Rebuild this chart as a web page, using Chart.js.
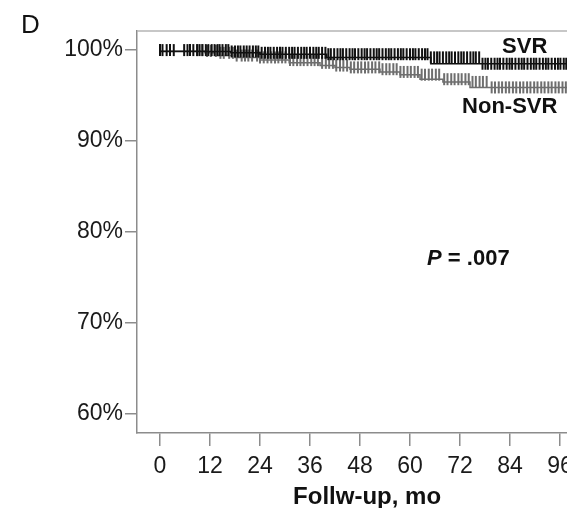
<!DOCTYPE html>
<html>
<head>
<meta charset="utf-8">
<script src="https://cdn.jsdelivr.net/npm/chart.js@4/dist/chart.umd.min.js"></script>
<style>
  html, body { margin: 0; padding: 0; background: #fff; overflow: hidden; }
</style>
</head>
<body>
<canvas id="km" width="567" height="508"></canvas>
<script>
// tick labels
const xTicks = [0, 12, 24, 36, 48, 60, 72, 84, 96];
const yTicks = [60, 70, 80, 90, 100];

// Kaplan-Meier steps (month, % event-free)
const svrTimes = [0, 17, 24, 40, 65, 77, 104];
const svrSurv  = [100, 99.85, 99.7, 99.55, 99.2, 98.5, 98.5];

const nonTimes = [0, 10.8, 13.7, 18, 24, 31, 38.4, 42, 45.6, 52.8, 57.6, 62.4, 67.9, 74.4, 79.2, 104];
const nonSurv  = [100, 99.9, 99.7, 99.4, 99.2, 98.9, 98.6, 98.3, 98.1, 97.9, 97.6, 97.3, 96.8, 96.5, 95.9, 95.9];

// censored observations (month)
const svrCensor = [0, 0.6, 1.6, 2.4, 3.3, 5.8, 6.6, 7.2, 8.0, 8.9, 9.5, 10.2, 11.0, 11.6, 12.4, 13.1, 13.8,
  14.3, 15.0, 15.8, 16.4, 17.2, 18.0, 18.7, 19.3, 20.1, 20.8, 21.5, 22.3, 23.0, 23.6, 24.4, 25.2, 25.9,
  26.5, 27.3, 28.1, 28.8, 29.4, 30.2, 31.0, 31.7, 32.3, 33.1, 33.9, 34.6, 35.2, 36.0, 36.8, 37.5, 38.1,
  38.9, 39.7, 40.4, 41.0, 41.8, 42.6, 43.3, 43.9, 44.7, 45.5, 46.2, 46.8, 47.6, 48.4, 49.1, 49.7, 50.5,
  51.3, 52.0, 52.6, 53.4, 54.2, 54.9, 55.5, 56.3, 57.1, 57.8, 58.4, 59.2, 60.0, 60.7, 61.3, 62.1, 62.9,
  63.6, 64.2, 65.0, 65.8, 66.5, 67.1, 67.9, 68.7, 69.4, 70.0, 70.8, 71.6, 72.3, 72.9, 73.7, 74.5, 75.2,
  75.8, 76.6, 77.4, 78.1, 78.7, 79.5, 80.3, 81.0, 81.6, 82.4, 83.2, 83.9, 84.5, 85.3, 86.1, 86.8, 87.4,
  88.2, 89.0, 89.7, 90.3, 91.1, 91.9, 92.6, 93.2, 94.0, 94.8, 95.5, 96.1, 96.9, 97.5];

const nonCensor = [9.0, 10.1, 11.3, 12.2, 13.4, 14.5, 15.3, 16.6, 17.5, 18.4, 19.6, 20.4, 21.2, 22.1, 23.3,
  24.0, 24.9, 25.8, 26.7, 27.6, 28.4, 29.3, 30.1, 31.2, 32.0, 32.9, 33.7, 34.5, 35.4, 36.3, 37.1, 37.9,
  38.9, 39.8, 40.6, 41.5, 42.3, 43.2, 44.0, 44.9, 45.8, 46.6, 47.5, 48.3, 49.2, 50.0, 50.9, 51.7, 52.6,
  53.4, 54.3, 55.1, 56.0, 56.8, 57.7, 58.5, 59.4, 60.2, 61.1, 61.9, 62.8, 63.6, 64.5, 65.3, 66.2, 67.0,
  68.2, 69.0, 69.9, 70.7, 71.6, 72.4, 73.3, 74.1, 75.0, 75.8, 76.7, 77.5, 78.4, 79.6, 80.4, 81.3, 82.1,
  83.0, 83.8, 84.7, 85.5, 86.4, 87.2, 88.1, 88.9, 89.8, 90.6, 91.5, 92.3, 93.2, 94.0, 94.9, 95.7, 96.6, 97.4];

function survAt(times, surv, t) {
  let v = surv[0];
  for (let i = 0; i < times.length; i++) if (times[i] <= t) v = surv[i];
  return v;
}
const pts = (times, surv) => times.map((t, i) => ({ x: t, y: surv[i] }));
const marks = (cens, times, surv) => cens.map(t => ({ x: t, y: survAt(times, surv, t) }));

const font = 'Liberation Sans';
const black = '#111';
const grey = '#6e6e6e';
const axisGrey = '#8c8c8c';

const extras = {
  id: 'extras',
  afterDraw(chart) {
    const { ctx, chartArea: a, scales: { x, y } } = chart;
    ctx.save();
    // top frame line
    ctx.strokeStyle = '#b4b4b4';
    ctx.lineWidth = 1.5;
    ctx.beginPath();
    ctx.moveTo(a.left, a.top);
    ctx.lineTo(a.right, a.top);
    ctx.stroke();

    ctx.fillStyle = '#111';
    ctx.textBaseline = 'alphabetic';
    ctx.font = `26px "${font}"`;
    ctx.fillText('D', 21, 33);

    ctx.font = `bold 22px "${font}"`;
    ctx.fillText('SVR', x.getPixelForValue(82.1), y.getPixelForValue(99.67));
    ctx.fillText('Non-SVR', x.getPixelForValue(72.5), y.getPixelForValue(93.1));

    // P value
    let px = x.getPixelForValue(64.1), py = y.getPixelForValue(76.4);
    ctx.font = `italic bold 22px "${font}"`;
    ctx.fillText('P', px, py);
    px += ctx.measureText('P').width;
    ctx.font = `bold 22px "${font}"`;
    ctx.fillText(' = .007', px, py);

    // axis title
    ctx.font = `bold 24px "${font}"`;
    ctx.textAlign = 'center';
    ctx.fillText('Follw-up, mo', x.getPixelForValue(49.7), 504);
    ctx.restore();
  }
};

new Chart(document.getElementById('km'), {
  type: 'scatter',
  data: {
    datasets: [
      {
        label: 'SVR', data: pts(svrTimes, svrSurv), showLine: true, stepped: 'after',
        borderColor: black, borderWidth: 1.5, pointRadius: 0, order: 1
      },
      {
        label: 'SVR censored', data: marks(svrCensor, svrTimes, svrSurv), showLine: false,
        pointStyle: 'line', rotation: 90, pointRadius: 6, borderColor: black, borderWidth: 2, order: 0
      },
      {
        label: 'Non-SVR', data: pts(nonTimes, nonSurv), showLine: true, stepped: 'after',
        borderColor: grey, borderWidth: 1.5, pointRadius: 0, order: 3
      },
      {
        label: 'Non-SVR censored', data: marks(nonCensor, nonTimes, nonSurv), showLine: false,
        pointStyle: 'line', rotation: 90, pointRadius: 6, borderColor: grey, borderWidth: 2, order: 2
      }
    ]
  },
  options: {
    responsive: false,
    animation: false,
    devicePixelRatio: 1,
    layout: { autoPadding: false, padding: { top: 31, right: 0, left: 0, bottom: 0 } },
    plugins: { legend: { display: false }, tooltip: { enabled: false } },
    scales: {
      x: {
        type: 'linear', min: -5.52, max: 97.68,
        border: { color: axisGrey, width: 1.5 },
        grid: { drawOnChartArea: false, drawTicks: true, tickLength: 13, color: axisGrey, lineWidth: 1.5 },
        ticks: { font: { family: font, size: 23 }, color: '#1a1a1a', padding: 7, maxRotation: 0, autoSkip: false },
        afterBuildTicks: s => { s.ticks = xTicks.map(v => ({ value: v })); },
        afterFit: s => { s.height = 75; s.paddingLeft = 0; s.paddingRight = 0; }
      },
      y: {
        type: 'linear', min: 57.9, max: 102.1,
        border: { color: axisGrey, width: 1.5 },
        grid: { drawOnChartArea: false, drawTicks: true, tickLength: 12, color: axisGrey, lineWidth: 1.5 },
        ticks: { font: { family: font, size: 23 }, color: '#1a1a1a', padding: 2, callback: v => v + '%' },
        afterBuildTicks: s => { s.ticks = yTicks.map(v => ({ value: v })); },
        afterFit: s => { s.width = 137; s.paddingTop = 0; s.paddingBottom = 0; }
      }
    }
  },
  plugins: [extras]
});
</script>
</body>
</html>
